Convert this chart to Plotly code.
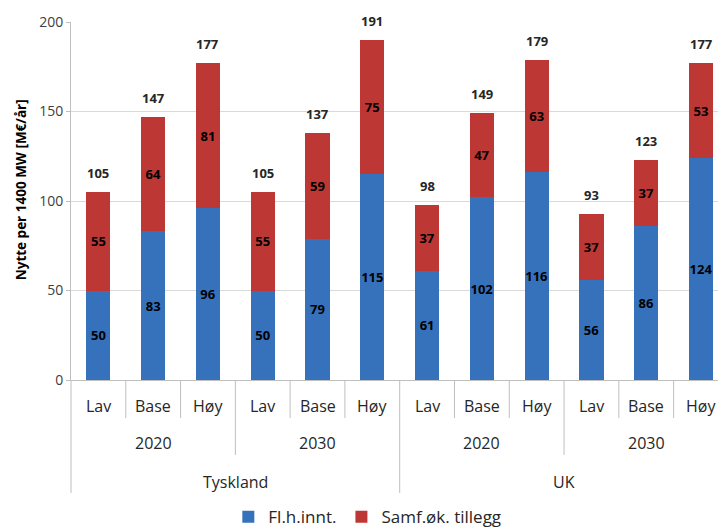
import plotly.graph_objects as go

# scenario labels per bar
scenarios = ["Lav", "Base", "Høy"] * 4
years = ["2020", "2030", "2020", "2030"]
countries = ["Tyskland", "UK"]

# values
fl_h_innt = [50, 83, 96, 50, 79, 115, 61, 102, 116, 56, 86, 124]
samf_tillegg = [55, 64, 81, 55, 59, 75, 37, 47, 63, 37, 37, 53]
totals = [105, 147, 177, 105, 137, 191, 98, 149, 179, 93, 123, 177]

FONT = "Open Sans"
BLUE = "#3672bb"
RED = "#bd3735"
GRID = "#d9d9d9"
LINE = "#bfbfbf"
TXT = "#262626"

x = list(range(len(scenarios)))

fig = go.Figure()
for vals, name, color in [(fl_h_innt, "Fl.h.innt.", BLUE),
                          (samf_tillegg, "Samf.øk. tillegg", RED)]:
    fig.add_trace(go.Bar(
        x=x, y=vals, name=name,
        marker=dict(color=color, line=dict(width=0)),
        text=[f"<b>{v}</b>" for v in vals],
        textposition="inside", insidetextanchor="middle",
        textangle=0, constraintext="none",
        textfont=dict(family=FONT, size=13, color="black"),
        hoverinfo="skip",
    ))

# totals above the bars
for i, t in enumerate(totals):
    fig.add_annotation(x=i, y=fl_h_innt[i] + samf_tillegg[i], text=f"<b>{t}</b>",
                       showarrow=False, yanchor="bottom", yshift=8,
                       font=dict(family=FONT, size=13, color=TXT))

# three-level category axis drawn by hand
for i, s in enumerate(scenarios):
    fig.add_annotation(x=i, y=0, yref="paper", text=s, showarrow=False,
                       yanchor="middle", yshift=-26,
                       font=dict(family=FONT, size=16, color=TXT))
for k, yr in enumerate(years):
    fig.add_annotation(x=3 * k + 1, y=0, yref="paper", text=yr, showarrow=False,
                       yanchor="middle", yshift=-63,
                       font=dict(family=FONT, size=16, color=TXT))
for k, c in enumerate(countries):
    fig.add_annotation(x=6 * k + 2.5, y=0, yref="paper", text=c, showarrow=False,
                       yanchor="middle", yshift=-102,
                       font=dict(family=FONT, size=16, color=TXT))

for b in range(len(scenarios)):
    pos = b - 0.5
    if b % 6 == 0:
        length = 113
    elif b % 3 == 0:
        length = 75
    else:
        length = 38
    fig.add_shape(type="line", xref="paper" if b == 0 else "x", yref="paper",
                  x0=0 if b == 0 else pos, x1=0 if b == 0 else pos,
                  ysizemode="pixel", yanchor=0, y0=0, y1=-length,
                  line=dict(color=LINE, width=1))

# y-axis title as a rotated annotation (sits a bit above the plot centre)
fig.add_annotation(text="<b>Nytte per 1400 MW [M€/år]</b>", xref="paper", yref="paper",
                   x=0, y=0.53, xanchor="center", yanchor="middle", xshift=-50,
                   textangle=-90, showarrow=False,
                   font=dict(family=FONT, size=13.5, color="black"))

fig.update_layout(
    width=718, height=527,
    margin=dict(l=71, r=0, t=22, b=147, autoexpand=False),
    barmode="stack", bargap=0.56,
    plot_bgcolor="white", paper_bgcolor="white",
    font=dict(family=FONT, color="#404040"),
    showlegend=True,
    legend=dict(orientation="h", x=0.458, xanchor="center", y=-0.383, yanchor="middle",
                font=dict(family=FONT, size=17, color=TXT), traceorder="normal"),
)
fig.update_xaxes(range=[-0.5, 11.31], showticklabels=False, showgrid=False,
                 showline=True, linecolor=LINE, zeroline=False, ticks="", automargin=False)
fig.update_yaxes(range=[0, 200], dtick=50, showgrid=True, gridcolor=GRID,
                 showline=True, linecolor=LINE, ticks="outside", ticklen=4, tickcolor=LINE,
                 zeroline=False, automargin=False,
                 tickfont=dict(family=FONT, size=14, color="#404040"))

# drop the browser's default 8px body margin so the figure fills the window
fig.write_html("out.html", config={"displayModeBar": False},
               post_script="document.body.style.margin='0px';")
